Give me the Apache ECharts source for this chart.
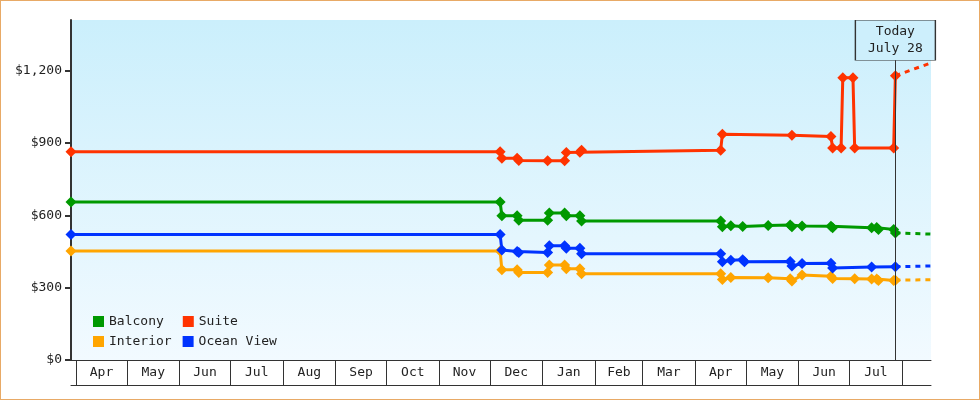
<!DOCTYPE html>
<html>
<head>
<meta charset="utf-8">
<title>Cabin prices</title>
<script src="https://cdn.jsdelivr.net/npm/echarts@6/dist/echarts.min.js"></script>
<style>
    html, body { margin: 0; padding: 0; background: #fff; }
    #main { width: 980px; height: 400px; }
    #frame {
        position: absolute; left: 0; top: 0; width: 980px; height: 400px;
        box-sizing: border-box; border: 1px solid #e8aa66; pointer-events: none;
    }
</style>
</head>
<body>
<div id="main"></div>
<div id="frame"></div>
<script>
// 价格数据 (每个舱型自己的采样日期)
var balconyDates = ['2012-03-29', '2012-12-07', '2012-12-08', '2012-12-17', '2012-12-18', '2013-01-04', '2013-01-05',
    '2013-01-14', '2013-01-15', '2013-01-23', '2013-01-24', '2013-04-16', '2013-04-17', '2013-04-22', '2013-04-29',
    '2013-05-14', '2013-05-27', '2013-05-28', '2013-06-03', '2013-06-20', '2013-06-21', '2013-07-14', '2013-07-17',
    '2013-07-18', '2013-07-27', '2013-07-28'];
var balconyPrices = [655, 655, 598, 598, 580, 580, 610,
    610, 598, 598, 576, 576, 553, 557, 554,
    558, 560, 553, 556, 555, 548, 548, 549,
    541, 541, 527];

var suiteDates = ['2012-03-29', '2012-12-07', '2012-12-08', '2012-12-17', '2012-12-18', '2013-01-04', '2013-01-14',
    '2013-01-15', '2013-01-23', '2013-01-24', '2013-04-16', '2013-04-17', '2013-05-28', '2013-06-20', '2013-06-21',
    '2013-06-26', '2013-06-27', '2013-07-03', '2013-07-04', '2013-07-27', '2013-07-28'];
var suitePrices = [864, 864, 837, 837, 827, 826, 826,
    861, 862, 870, 870, 936, 932, 927, 879,
    879, 1171, 1171, 879, 879, 1179];

var interiorDates = ['2012-03-29', '2012-12-07', '2012-12-08', '2012-12-17', '2012-12-18', '2013-01-04', '2013-01-05',
    '2013-01-14', '2013-01-15', '2013-01-23', '2013-01-24', '2013-04-16', '2013-04-17', '2013-04-22', '2013-05-14',
    '2013-05-27', '2013-05-28', '2013-06-03', '2013-06-20', '2013-06-21', '2013-07-04', '2013-07-14', '2013-07-17',
    '2013-07-18', '2013-07-27', '2013-07-28'];
var interiorPrices = [452, 452, 374, 374, 363, 363, 394,
    394, 378, 378, 358, 358, 334, 342, 341,
    337, 328, 352, 347, 338, 337, 336, 336,
    330, 330, 331];

var oceanDates = ['2012-03-29', '2012-12-07', '2012-12-08', '2012-12-17', '2012-12-18', '2013-01-04', '2013-01-05',
    '2013-01-14', '2013-01-15', '2013-01-23', '2013-01-24', '2013-04-16', '2013-04-17', '2013-04-22', '2013-04-29',
    '2013-04-30', '2013-05-27', '2013-05-28', '2013-06-03', '2013-06-20', '2013-06-21', '2013-07-14', '2013-07-28'];
var oceanPrices = [520, 520, 456, 450, 446, 446, 474,
    474, 463, 463, 441, 441, 407, 414, 416,
    407, 408, 390, 400, 401, 382, 386, 387];

// 预测 (今天 -> 三周后)
var forecastDates = ['2013-07-28', '2013-08-18'];
var balconyForecast = [527, 522];
var suiteForecast = [1179, 1232];
var interiorForecast = [331, 333];
var oceanForecast = [387, 390];

// 坐标轴
var axisStart = '2012-03-29';
var axisEnd = '2013-08-18';
var monthStarts = ['2012-04-01', '2012-05-01', '2012-06-01', '2012-07-01', '2012-08-01', '2012-09-01',
    '2012-10-01', '2012-11-01', '2012-12-01', '2013-01-01', '2013-02-01', '2013-03-01', '2013-04-01',
    '2013-05-01', '2013-06-01', '2013-07-01', '2013-08-01'];
var monthNames = ['Jan', 'Feb', 'Mar', 'Apr', 'May', 'Jun', 'Jul', 'Aug', 'Sep', 'Oct', 'Nov', 'Dec'];
var priceTicks = [0, 300, 600, 900, 1200];
var todayDate = '2013-07-28';
var todayText = 'Today\nJuly 28';

var FONT = "'DejaVu Sans Mono', monospace";

function toTime(s) {
    var p = s.split('-');
    return new Date(+p[0], +p[1] - 1, +p[2]).getTime();
}
function pairs(dates, prices) {
    return dates.map(function (d, i) { return [toTime(d), prices[i]]; });
}
function money(v) {
    return '$' + String(v).replace(/\B(?=(\d{3})+(?!\d))/g, ',');
}

var tickTimes = monthStarts.map(toTime);
// 月份标签放在每个月的中间
var labelTimes = [];
for (var i = 0; i < tickTimes.length - 1; i++) {
    labelTimes.push((tickTimes[i] + tickTimes[i + 1]) / 2);
}

function lineSeries(name, color, data) {
    return {
        name: name,
        type: 'line',
        data: data,
        symbol: 'diamond',
        symbolSize: 11,
        showAllSymbol: true,
        lineStyle: { color: color, width: 3 },
        itemStyle: { color: color },
        emphasis: { disabled: true },
        silent: true
    };
}
function forecastSeries(name, color, data) {
    return {
        name: name,
        type: 'line',
        data: data,
        showSymbol: false,
        lineStyle: { color: color, width: 3, type: [5, 5] },
        itemStyle: { color: color },
        emphasis: { disabled: true },
        silent: true
    };
}

var colors = { balcony: '#009900', suite: '#ff3300', interior: '#ffa500', ocean: '#0033ff' };

var suite = lineSeries('Suite', colors.suite, pairs(suiteDates, suitePrices));
suite.clip = false;
suite.markLine = {
    silent: true,
    symbol: ['none', 'none'],
    label: { show: false },
    lineStyle: { color: '#333', width: 1, type: 'solid' },
    data: [{ xAxis: toTime(todayDate) }]
};
suite.markPoint = {
    silent: true,
    z: 6,
    symbol: 'rect',
    symbolSize: [80, 40],
    itemStyle: { color: '#cdeffc', borderColor: '#333', borderWidth: 1 },
    label: {
        show: true, position: 'inside', formatter: todayText,
        color: '#222', fontFamily: FONT, fontSize: 13, lineHeight: 17
    },
    data: [{ coord: [toTime(todayDate), 1326] }]
};

var legendText = { fontFamily: FONT, fontSize: 13, color: '#222' };

var chart = echarts.init(document.getElementById('main'));
var option = {
    animation: false,
    grid: {
        left: 71, right: 49, top: 20, bottom: 40,
        show: true, borderWidth: 0,
        backgroundColor: new echarts.graphic.LinearGradient(0, 0, 0, 1, [
            { offset: 0, color: '#cbeffc' },
            { offset: 1, color: '#f2faff' }
        ])
    },
    legend: [
        {
            data: ['Balcony', 'Suite'],
            left: 93, top: 315, padding: 0,
            icon: 'rect', itemWidth: 11, itemHeight: 11, itemGap: 19,
            selectedMode: false,
            textStyle: legendText
        },
        {
            data: ['Interior', 'Ocean View'],
            left: 93, top: 335, padding: 0,
            icon: 'rect', itemWidth: 11, itemHeight: 11, itemGap: 11,
            selectedMode: false,
            textStyle: legendText
        }
    ],
    xAxis: [
        {
            type: 'value',
            min: toTime(axisStart),
            max: toTime(axisEnd),
            axisLine: { show: true, onZero: false, lineStyle: { color: '#333', width: 1 } },
            axisTick: { show: true, length: 25, customValues: tickTimes, lineStyle: { color: '#333', width: 1 } },
            axisLabel: {
                customValues: labelTimes,
                margin: 6,
                fontFamily: FONT, fontSize: 13, color: '#222',
                formatter: function (v) {
                    return monthNames[new Date(v).getMonth()];
                }
            },
            splitLine: { show: false }
        },
        {
            type: 'value',
            position: 'bottom',
            offset: 25,
            min: toTime(axisStart),
            max: toTime(axisEnd),
            axisLine: { show: true, onZero: false, lineStyle: { color: '#333', width: 1 } },
            axisTick: { show: false },
            axisLabel: { show: false },
            splitLine: { show: false }
        }
    ],
    yAxis: {
        type: 'value',
        min: 0,
        max: 1410,
        axisLine: { show: true, lineStyle: { color: '#333', width: 2 } },
        axisTick: { show: true, length: 6, customValues: priceTicks, lineStyle: { color: '#333', width: 2 } },
        axisLabel: {
            customValues: priceTicks,
            margin: 9,
            fontFamily: FONT, fontSize: 13, color: '#222',
            formatter: money
        },
        splitLine: { show: false }
    },
    series: [
        lineSeries('Balcony', colors.balcony, pairs(balconyDates, balconyPrices)),
        suite,
        lineSeries('Interior', colors.interior, pairs(interiorDates, interiorPrices)),
        lineSeries('Ocean View', colors.ocean, pairs(oceanDates, oceanPrices)),
        forecastSeries('Balcony forecast', colors.balcony, pairs(forecastDates, balconyForecast)),
        forecastSeries('Suite forecast', colors.suite, pairs(forecastDates, suiteForecast)),
        forecastSeries('Interior forecast', colors.interior, pairs(forecastDates, interiorForecast)),
        forecastSeries('Ocean View forecast', colors.ocean, pairs(forecastDates, oceanForecast))
    ]
};
chart.setOption(option);
</script>
</body>
</html>
